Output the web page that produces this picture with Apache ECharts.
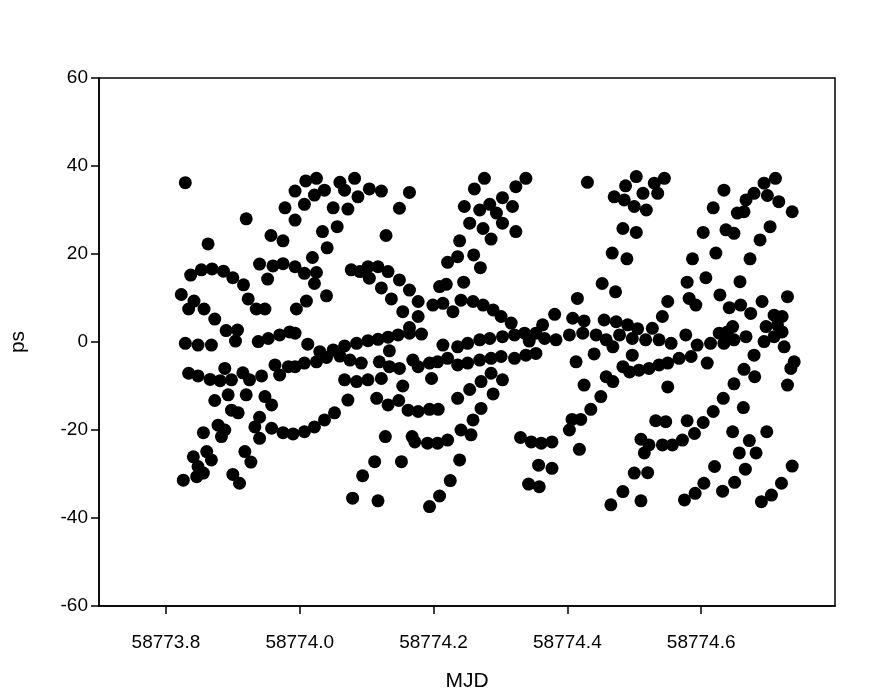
<!DOCTYPE html>
<html>
<head>
<meta charset="utf-8">
<title>ps vs MJD</title>
<script src="https://cdn.jsdelivr.net/npm/echarts@6/dist/echarts.min.js"></script>
<style>
  html, body { margin: 0; padding: 0; background: #fff; }
  #chart { width: 875px; height: 699px; }
</style>
</head>
<body>
<div id="chart"></div>
<script>
// tick labels on the MJD axis
var xTicks = [58773.8, 58774.0, 58774.2, 58774.4, 58774.6];

// points, left to right in bands
var mjd1 = [58773.829, 58773.978, 58773.920, 58773.957, 58773.975, 58773.863, 58773.940, 58773.960, 58773.975, 58773.952,
  58773.837, 58773.853, 58773.869, 58773.886, 58773.900, 58773.916, 58773.923, 58773.935, 58773.948, 58773.823,
  58773.842, 58773.834, 58773.857, 58773.873, 58773.890, 58773.907, 58773.904, 58773.829, 58773.848, 58773.868,
  58773.938, 58773.953, 58773.970, 58773.985, 58773.834, 58773.848, 58773.866, 58773.881, 58773.888, 58773.898,
  58773.915, 58773.925, 58773.943, 58773.963, 58773.970, 58773.983, 58773.873, 58773.893, 58773.920, 58773.948,
  58773.958, 58773.898, 58773.908, 58773.878, 58773.856, 58773.888, 58773.883, 58773.940, 58773.933, 58773.940,
  58773.958, 58773.975, 58773.841, 58773.861, 58773.868, 58773.848, 58773.856, 58773.846, 58773.826, 58773.918,
  58773.927, 58773.900, 58773.910];
var ps1 = [36.2, 30.5, 28.0, 24.2, 23.0, 22.3, 17.7, 17.3, 17.8, 14.3,
  15.2, 16.4, 16.6, 16.1, 14.6, 13.0, 9.8, 7.5, 7.5, 10.8,
  9.3, 7.5, 7.5, 5.2, 2.6, 2.7, 0.2, -0.3, -0.7, -0.7,
  0.1, 0.8, 1.6, 2.3, -7.1, -7.7, -8.5, -8.8, -6.0, -8.6,
  -7.0, -8.6, -7.7, -5.2, -7.5, -5.6, -13.3, -12.0, -12.0, -12.4,
  -14.3, -15.5, -16.1, -18.9, -20.6, -20.0, -21.5, -17.1, -19.3, -21.9,
  -19.6, -20.6, -26.1, -24.9, -26.8, -28.3, -29.8, -30.6, -31.4, -24.9,
  -27.3, -30.1, -32.1];

var mjd2 = [58774.009, 58774.025, 58773.993, 58774.060, 58774.082, 58774.067, 58774.022, 58774.037, 58774.007, 58774.087,
  58774.104, 58774.122, 58774.164, 58774.050, 58774.072, 58774.149, 58773.993, 58774.034, 58774.056, 58774.129,
  58774.041, 58774.019, 58773.993, 58774.007, 58774.025, 58774.022, 58774.040, 58774.010, 58773.995, 58774.077,
  58774.090, 58774.102, 58774.117, 58774.132, 58774.104, 58774.122, 58774.149, 58774.164, 58774.137, 58774.154,
  58774.177, 58774.177, 58774.164, 58773.993, 58774.012, 58774.030, 58774.050, 58774.067, 58774.085, 58774.102,
  58774.117, 58774.132, 58774.147, 58774.164, 58774.134, 58773.993, 58774.007, 58774.025, 58774.040, 58774.060,
  58774.075, 58774.092, 58774.119, 58774.134, 58774.149, 58774.169, 58774.177, 58774.067, 58774.085, 58774.102,
  58774.122, 58774.154, 58774.072, 58774.115, 58774.132, 58774.148, 58774.162, 58774.177, 58774.052, 58774.037,
  58774.022, 58774.007, 58773.990, 58774.128, 58774.168, 58774.172, 58774.112, 58774.152, 58774.094, 58774.079,
  58774.117];
var ps2 = [36.6, 37.2, 34.3, 36.3, 37.2, 34.5, 33.4, 34.5, 31.3, 33.0,
  34.8, 34.3, 34.0, 30.5, 30.2, 30.4, 27.7, 25.1, 26.2, 24.2,
  21.4, 19.2, 17.1, 15.6, 15.8, 13.3, 10.5, 9.3, 7.5, 16.4,
  16.0, 17.1, 17.1, 16.0, 14.5, 12.3, 14.1, 11.8, 9.8, 6.9,
  9.2, 5.8, 3.3, 2.0, -0.5, -2.2, -1.8, -0.9, -0.3, 0.3,
  0.6, 1.1, 1.6, 2.0, -2.0, -5.6, -4.8, -4.5, -3.5, -3.2,
  -4.1, -4.8, -4.5, -5.6, -6.0, -4.1, -5.6, -8.6, -9.0, -8.6,
  -8.3, -10.0, -13.2, -12.8, -14.3, -13.3, -15.5, -15.8, -16.1, -17.7,
  -19.3, -20.4, -20.9, -21.5, -21.5, -22.7, -27.2, -27.2, -30.4, -35.5,
  -36.1];

var mjd3 = [58774.276, 58774.261, 58774.338, 58774.323, 58774.246, 58774.269, 58774.284, 58774.303, 58774.318, 58774.294,
  58774.254, 58774.274, 58774.303, 58774.323, 58774.286, 58774.239, 58774.236, 58774.221, 58774.260, 58774.270,
  58774.209, 58774.219, 58774.245, 58774.199, 58774.214, 58774.229, 58774.241, 58774.259, 58774.274, 58774.289,
  58774.301, 58774.316, 58774.363, 58774.182, 58774.214, 58774.236, 58774.251, 58774.269, 58774.284, 58774.303,
  58774.321, 58774.336, 58774.353, 58774.343, 58774.194, 58774.206, 58774.221, 58774.236, 58774.251, 58774.269,
  58774.286, 58774.301, 58774.321, 58774.338, 58774.353, 58774.197, 58774.286, 58774.303, 58774.271, 58774.254,
  58774.236, 58774.289, 58774.271, 58774.259, 58774.241, 58774.256, 58774.194, 58774.207, 58774.191, 58774.206,
  58774.221, 58774.239, 58774.225, 58774.209, 58774.194, 58774.330, 58774.346, 58774.361, 58774.357, 58774.342,
  58774.358];
var ps3 = [37.2, 34.8, 37.2, 35.3, 30.8, 30.0, 31.3, 32.8, 30.8, 29.3,
  27.0, 25.8, 27.0, 25.1, 23.4, 23.0, 19.4, 18.1, 19.8, 16.9,
  12.6, 13.1, 13.6, 8.4, 8.8, 6.9, 9.5, 9.2, 8.4, 7.3,
  5.8, 4.3, 3.9, 1.8, -0.7, -1.1, -0.3, 0.5, 0.8, 1.2,
  1.6, 2.0, 2.0, 0.2, -4.8, -4.5, -3.7, -5.2, -4.8, -4.1,
  -3.7, -3.3, -3.7, -3.0, -2.6, -8.3, -7.1, -8.6, -9.0, -10.8,
  -12.8, -11.8, -15.1, -17.7, -20.0, -21.1, -15.3, -15.3, -23.0, -23.0,
  -22.3, -26.8, -31.5, -35.0, -37.4, -21.7, -22.7, -23.0, -28.0, -32.3,
  -32.9];

var mjd4 = [58774.430, 58774.503, 58774.487, 58774.470, 58774.485, 58774.500, 58774.518, 58774.513, 58774.530, 58774.545,
  58774.535, 58774.483, 58774.503, 58774.467, 58774.489, 58774.452, 58774.472, 58774.415, 58774.550, 58774.381,
  58774.542, 58774.408, 58774.425, 58774.455, 58774.473, 58774.490, 58774.505, 58774.527, 58774.366, 58774.383,
  58774.403, 58774.423, 58774.443, 58774.458, 58774.478, 58774.497, 58774.517, 58774.537, 58774.468, 58774.497,
  58774.413, 58774.440, 58774.483, 58774.458, 58774.468, 58774.493, 58774.507, 58774.522, 58774.537, 58774.550,
  58774.425, 58774.450, 58774.435, 58774.420, 58774.407, 58774.403, 58774.550, 58774.377, 58774.418, 58774.532,
  58774.547, 58774.510, 58774.522, 58774.542, 58774.515, 58774.377, 58774.500, 58774.520, 58774.483, 58774.465,
  58774.510];
var ps4 = [36.3, 37.6, 35.5, 33.0, 32.3, 30.8, 30.0, 33.8, 36.1, 37.2,
  33.8, 25.8, 24.9, 20.2, 18.9, 13.3, 11.4, 9.9, 9.2, 6.3,
  5.8, 5.4, 4.8, 5.0, 4.6, 3.9, 3.0, 3.1, 0.8, 0.5,
  1.6, 2.0, 1.6, 0.5, 1.6, 0.8, 0.5, 0.5, -1.1, -3.0,
  -4.5, -2.7, -5.6, -7.9, -9.0, -6.8, -6.4, -6.0, -5.2, -4.8,
  -9.8, -12.4, -15.3, -17.6, -17.6, -20.0, -10.2, -22.7, -24.4, -17.9,
  -18.1, -22.1, -23.4, -23.4, -25.2, -28.7, -29.8, -29.7, -34.0, -37.0,
  -36.1];

var mjd5 = [58774.634, 58774.694, 58774.711, 58774.679, 58774.667, 58774.699, 58774.716, 58774.736, 58774.618, 58774.654,
  58774.664, 58774.703, 58774.603, 58774.637, 58774.649, 58774.688, 58774.587, 58774.622, 58774.673, 58774.607,
  58774.579, 58774.658, 58774.582, 58774.592, 58774.628, 58774.642, 58774.659, 58774.674, 58774.691, 58774.729,
  58774.709, 58774.721, 58774.697, 58774.714, 58774.647, 58774.627, 58774.555, 58774.577, 58774.594, 58774.614,
  58774.634, 58774.649, 58774.667, 58774.639, 58774.694, 58774.709, 58774.721, 58774.724, 58774.567, 58774.585,
  58774.609, 58774.679, 58774.739, 58774.734, 58774.664, 58774.680, 58774.729, 58774.649, 58774.633, 58774.663,
  58774.618, 58774.579, 58774.603, 58774.590, 58774.572, 58774.557, 58774.647, 58774.698, 58774.672, 58774.657,
  58774.682, 58774.620, 58774.666, 58774.736, 58774.604, 58774.650, 58774.632, 58774.720, 58774.591, 58774.575,
  58774.705, 58774.690];
var ps5 = [34.5, 36.1, 37.2, 33.8, 32.3, 33.3, 31.9, 29.6, 30.5, 29.3,
  29.6, 26.2, 24.9, 25.5, 24.7, 23.2, 18.9, 20.2, 18.9, 14.6,
  13.6, 13.7, 9.9, 8.4, 10.7, 7.8, 8.4, 6.5, 9.2, 10.3,
  6.1, 5.8, 3.5, 3.9, 3.5, 2.0, -0.3, 1.6, -0.7, -0.3,
  -0.3, 0.5, 1.2, 2.3, 0.1, 1.2, 2.3, -1.1, -3.7, -3.3,
  -4.8, -3.0, -4.5, -6.0, -6.2, -7.9, -9.8, -9.5, -12.8, -14.9,
  -15.8, -17.9, -18.3, -20.8, -22.3, -23.4, -20.4, -20.4, -22.4, -25.2,
  -25.2, -28.3, -28.9, -28.2, -32.1, -31.9, -33.9, -32.1, -34.4, -35.9,
  -34.8, -36.3];

var mjd = mjd1.concat(mjd2, mjd3, mjd4, mjd5);
var ps = ps1.concat(ps2, ps3, ps4, ps5);

var points = [];
for (var i = 0; i < mjd.length; i++) {
  points.push([mjd[i], ps[i]]);
}

var chart = echarts.init(document.getElementById('chart'));
var labelFont = 'Liberation Sans, Arial, sans-serif';

chart.setOption({
  backgroundColor: '#fff',
  animation: false,
  grid: {
    left: 98,
    right: 40,
    top: 78,
    bottom: 93,
    show: true,
    borderColor: '#000',
    borderWidth: 1.5
  },
  xAxis: {
    type: 'value',
    min: 58773.7,
    max: 58774.8,
    name: 'MJD',
    nameLocation: 'middle',
    nameGap: 65,
    nameTextStyle: { fontFamily: labelFont, fontSize: 21, color: '#000' },
    axisLine: { onZero: false, lineStyle: { color: '#000', width: 1.5 } },
    axisTick: { inside: false, length: 8, customValues: xTicks, lineStyle: { color: '#000', width: 1.5 } },
    axisLabel: {
      customValues: xTicks,
      margin: 27,
      fontFamily: labelFont,
      fontSize: 19,
      color: '#000',
      formatter: function (v) { return v.toFixed(1); }
    },
    splitLine: { show: false }
  },
  yAxis: {
    type: 'value',
    min: -60,
    max: 60,
    interval: 20,
    name: 'ps',
    nameLocation: 'middle',
    nameGap: 70,
    nameTextStyle: { fontFamily: labelFont, fontSize: 21, color: '#000' },
    axisLine: { onZero: false, lineStyle: { color: '#000', width: 1.5 } },
    axisTick: { inside: false, length: 8, lineStyle: { color: '#000', width: 1.5 } },
    axisLabel: { margin: 11, fontFamily: labelFont, fontSize: 19, color: '#000' },
    splitLine: { show: false }
  },
  series: [
    {
      type: 'scatter',
      data: points,
      symbol: 'circle',
      symbolSize: 13,
      itemStyle: { color: '#000', opacity: 1 }
    }
  ]
});
</script>
</body>
</html>
